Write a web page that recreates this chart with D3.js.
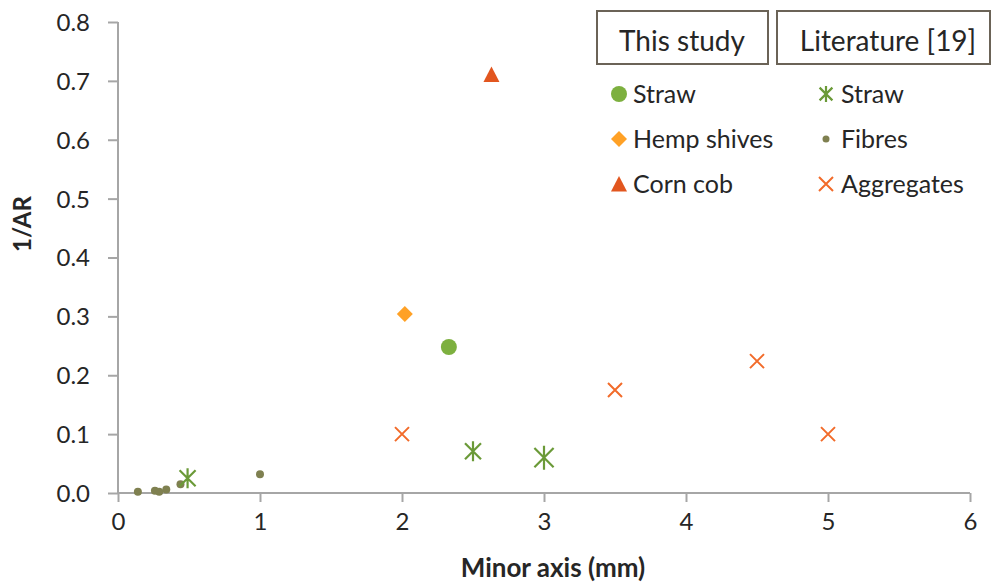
<!DOCTYPE html>
<html><head><meta charset="utf-8">
<script src="https://cdn.jsdelivr.net/npm/d3@7"></script>
<style>body{margin:0;background:#fff}svg{display:block}text{font-family:Lato,"Open Sans",sans-serif;fill:#262626}</style>
</head><body><svg id="c" width="993" height="583"></svg>
<script>
const xTicks=[0,1,2,3,4,5,6];
const yTicks=[0,0.1,0.2,0.3,0.4,0.5,0.6,0.7,0.8];
const studyStraw=[[2.33,0.248]];
const studyHemp=[[2.02,0.304]];
const studyCorn=[[2.63,0.711]];
const litStraw=[[0.49,0.025],[2.5,0.071],[3.0,0.060]];
const litFibres=[[0.14,0.002],[0.26,0.004],[0.29,0.002],[0.34,0.006],[0.44,0.015],[1.0,0.032]];
const litAggregates=[[2.0,0.1],[3.5,0.175],[4.5,0.224],[5.0,0.1]];

const svg=d3.select('#c');
const x=d3.scaleLinear().domain([0,6]).range([118,970]);
const y=d3.scaleLinear().domain([0,0.8]).range([493,22]);
const axCol='#a6a6a6';

const gx=svg.append('g').attr('transform','translate(0,493)')
 .call(d3.axisBottom(x).tickValues(xTicks).tickFormat(d3.format('d')).tickSize(9).tickPadding(11));
const gy=svg.append('g').attr('transform','translate(118,0)')
 .call(d3.axisLeft(y).tickValues(yTicks).tickFormat(d3.format('.1f')).tickSize(10).tickPadding(18));
[gx,gy].forEach(g=>{g.selectAll('path,line').attr('stroke',axCol).attr('stroke-width',2);
 g.select('.domain').attr('d',g===gx?'M118,0H970':'M0,22V493');
 g.selectAll('text').style('font-size','24px').attr('fill','#262626');});
gy.selectAll('text').attr('dy','0.35em');

svg.append('text').attr('x',553).attr('y',577).attr('text-anchor','middle').style('font-size','26px').style('font-weight','bold').text('Minor axis (mm)');
svg.append('text').attr('transform','translate(31,224) rotate(-90)').attr('text-anchor','middle').style('font-size','24px').style('font-weight','bold').text('1/AR');

const C={straw:'#7DB03F',hemp:'#FFA126',corn:'#E2561F',lstraw:'#6B9A38',fib:'#7F8050',agg:'#F26B2A'};
function circle(g,px,py,r,c){g.append('circle').attr('cx',px).attr('cy',py).attr('r',r).attr('fill',c);}
function diamond(g,px,py,s,c){g.append('path').attr('d',`M${px},${py-s}L${px+s},${py}L${px},${py+s}L${px-s},${py}Z`).attr('fill',c);}
function tri(g,px,py,s,c){g.append('path').attr('d',`M${px},${py-s}L${px+s},${py+s*0.95}L${px-s},${py+s*0.95}Z`).attr('fill',c);}
function star(g,px,py,s,c){g.append('path').attr('d',`M${px},${py-s}V${py+s}M${px-s*0.8},${py-s*0.8}L${px+s*0.8},${py+s*0.8}M${px-s*0.8},${py+s*0.8}L${px+s*0.8},${py-s*0.8}`).attr('stroke',c).attr('stroke-width',2.2).attr('fill','none');}
function cross(g,px,py,s,c){g.append('path').attr('d',`M${px-s},${py-s}L${px+s},${py+s}M${px-s},${py+s}L${px+s},${py-s}`).attr('stroke',c).attr('stroke-width',2).attr('fill','none');}

const m=svg.append('g');
litFibres.forEach(d=>circle(m,x(d[0]),y(d[1]),4,C.fib));
litAggregates.forEach(d=>cross(m,x(d[0]),y(d[1]),7,C.agg));
litStraw.forEach((d,i)=>star(m,x(d[0]),y(d[1]),i===2?12:10,C.lstraw));
studyStraw.forEach(d=>circle(m,x(d[0]),y(d[1]),8,C.straw));
studyHemp.forEach(d=>diamond(m,x(d[0]),y(d[1]),8,C.hemp));
studyCorn.forEach(d=>tri(m,x(d[0]),y(d[1]),8,C.corn));

// legend
const lg=svg.append('g');
lg.append('rect').attr('x',597).attr('y',11).attr('width',171).attr('height',53).attr('fill','#fff').attr('stroke','#6b6357').attr('stroke-width',2);
lg.append('rect').attr('x',777).attr('y',11).attr('width',213).attr('height',53).attr('fill','#fff').attr('stroke','#6b6357').attr('stroke-width',2);
lg.append('text').attr('x',682).attr('y',51).attr('text-anchor','middle').style('font-size','28px').text('This study');
lg.append('text').attr('x',888).attr('y',51).attr('text-anchor','middle').style('font-size','28px').text('Literature [19]');
const rows=[94,139,184];
const left=['Straw','Hemp shives','Corn cob'], right=['Straw','Fibres','Aggregates'];
circle(lg,619,rows[0],8,C.straw);diamond(lg,619,rows[1],8,C.hemp);tri(lg,619,rows[2],8,C.corn);
star(lg,826,rows[0],8,C.lstraw);circle(lg,826,rows[1],3.5,C.fib);cross(lg,826,rows[2],7,C.agg);
left.forEach((t,i)=>lg.append('text').attr('x',633).attr('y',rows[i]).attr('dy','0.35em').style('font-size','25px').text(t));
right.forEach((t,i)=>lg.append('text').attr('x',841).attr('y',rows[i]).attr('dy','0.35em').style('font-size','25px').text(t));
</script></body></html>
